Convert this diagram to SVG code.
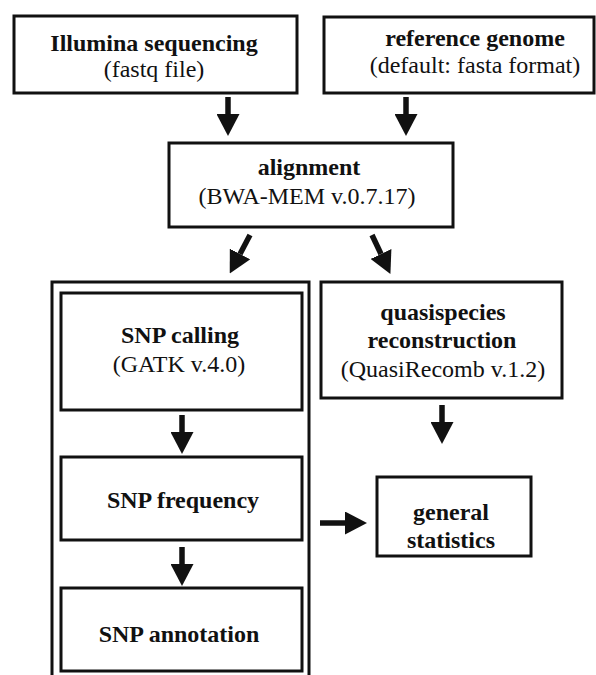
<svg xmlns="http://www.w3.org/2000/svg" width="596" height="675" viewBox="0 0 596 675">
<defs>
<marker id="ah" markerUnits="userSpaceOnUse" markerWidth="22" markerHeight="23" viewBox="0 0 22 23" refX="0" refY="11.5" orient="auto">
<path d="M0,0 L22,11.5 L0,23 z" fill="#111"/>
</marker>
<style>
.box{fill:#fff;stroke:#111;stroke-width:3}
.t{font-family:"Liberation Serif","Times New Roman",serif;font-size:24px;fill:#111;text-anchor:middle}
.b{font-weight:bold}
.arr{stroke:#111;stroke-width:5.5;fill:none;marker-end:url(#ah)}
</style>
</defs>
<rect width="596" height="675" fill="#fff"/>
<g id="illumina">
<rect class="box" x="14" y="16" width="283" height="77"/>
<text class="t b" x="154" y="51">Illumina sequencing</text>
<text class="t" x="154" y="77">(fastq file)</text>
</g>
<g id="reference">
<rect class="box" x="324" y="17" width="270" height="76"/>
<text class="t b" x="475" y="46">reference genome</text>
<text class="t" x="475" y="73">(default: fasta format)</text>
</g>
<g id="alignment">
<rect class="box" x="169" y="143" width="284" height="84"/>
<text class="t b" x="309" y="175">alignment</text>
<text class="t" x="307" y="204">(BWA-MEM v.0.7.17)</text>
</g>
<g id="snp-container">
<rect class="box" x="52" y="282" width="257" height="420" fill="none"/>
</g>
<g id="snp-calling">
<rect class="box" x="61" y="293" width="241" height="117"/>
<text class="t b" x="180" y="343">SNP calling</text>
<text class="t" x="179" y="372">(GATK v.4.0)</text>
</g>
<g id="snp-frequency">
<rect class="box" x="61" y="457" width="241" height="83"/>
<text class="t b" x="183" y="508">SNP frequency</text>
</g>
<g id="snp-annotation">
<rect class="box" x="61" y="588" width="241" height="83"/>
<text class="t b" x="179" y="642">SNP annotation</text>
</g>
<g id="quasispecies">
<rect class="box" x="321" y="282" width="241" height="116"/>
<text class="t b" x="443" y="320">quasispecies</text>
<text class="t b" x="442" y="348">reconstruction</text>
<text class="t" x="443" y="377">(QuasiRecomb v.1.2)</text>
</g>
<g id="statistics">
<rect class="box" x="377" y="477" width="154" height="79"/>
<text class="t b" x="451" y="520">general</text>
<text class="t b" x="451" y="548">statistics</text>
</g>
<g id="connectors">
<line class="arr" x1="228" y1="97" x2="228" y2="114"/>
<line class="arr" x1="406" y1="97" x2="406" y2="114"/>
<line class="arr" x1="250" y1="235" x2="240" y2="254"/>
<line class="arr" x1="372" y1="235" x2="381" y2="254"/>
<line class="arr" x1="182" y1="415" x2="182" y2="432"/>
<line class="arr" x1="442" y1="405" x2="442" y2="422"/>
<line class="arr" x1="182" y1="547" x2="182" y2="564"/>
<line class="arr" x1="320" y1="523" x2="345" y2="523"/>
</g>
</svg>
